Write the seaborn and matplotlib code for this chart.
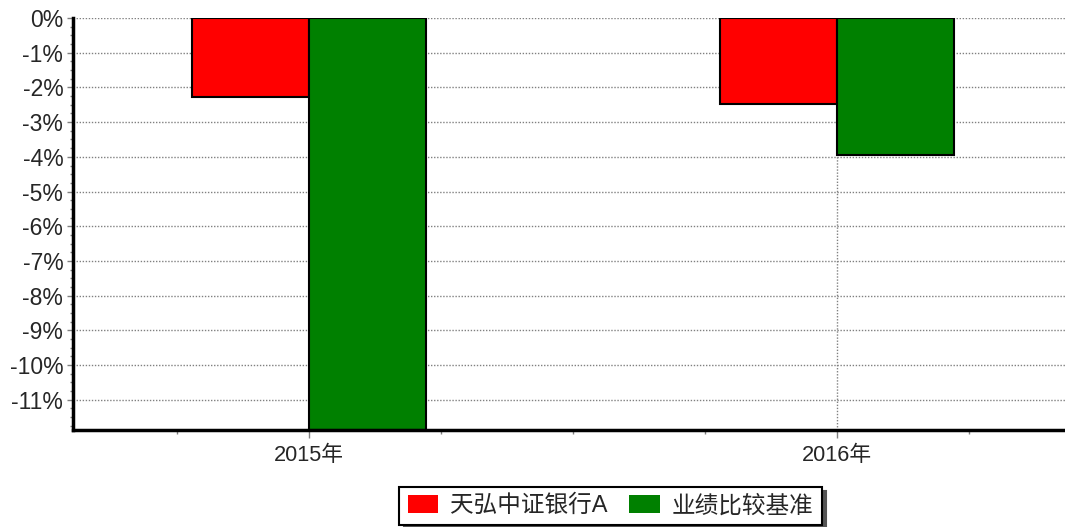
import matplotlib
matplotlib.use('Agg')
import matplotlib.pyplot as plt
import seaborn as sns
import pandas as pd
from matplotlib.ticker import FixedLocator, MultipleLocator, FuncFormatter
from matplotlib.patches import Patch

years = ['2015年', '2016年']
series_names = ['天弘中证银行A', '业绩比较基准']
fund_returns = [-2.28, -2.48]
benchmark_returns = [-11.87, -3.95]
colors = ['#FF0000', '#008000']
y_ticks = [0, -1, -2, -3, -4, -5, -6, -7, -8, -9, -10, -11]

df = pd.DataFrame({
    'year': years * 2,
    'series': [series_names[0]] * 2 + [series_names[1]] * 2,
    'value': fund_returns + benchmark_returns,
})

sns.set_theme(style='white')
plt.rcParams['font.family'] = ['Liberation Sans', 'Noto Sans CJK SC', 'DejaVu Sans']

W, H = 1065, 527
fig = plt.figure(figsize=(W / 100, H / 100), dpi=100)
ax = fig.add_axes([73 / W, 1 - 430 / H, 1 - 73 / W, (430 - 18) / H])

sns.barplot(data=df, x='year', y='value', hue='series', palette=colors,
            width=0.444, edgecolor='black', linewidth=1.5, saturation=1,
            ax=ax, legend=False)

ax.set_xlim(-0.447, 1.432)
ax.set_ylim(min(benchmark_returns + fund_returns), 0)
ax.set_xlabel('')
ax.set_ylabel('')

ax.set_yticks(y_ticks)
ax.yaxis.set_major_formatter(FuncFormatter(lambda v, p: f'{int(round(v))}%'))
ax.yaxis.set_minor_locator(MultipleLocator(0.25))
ax.set_xticks([0, 1])
ax.set_xticklabels(years)
ax.xaxis.set_minor_locator(FixedLocator([-0.25, 0.25, 0.5, 0.75, 1.25]))

ax.tick_params(axis='y', which='major', direction='out', length=4, width=1,
               color='#808080', labelsize=16.5, pad=3, left=True)
ax.tick_params(axis='y', which='minor', direction='out', length=2.2, width=1,
               color='#808080', left=True)
ax.tick_params(axis='x', which='major', direction='out', length=6, width=1,
               color='#808080', labelsize=15.7, pad=5, bottom=True)
ax.tick_params(axis='x', which='minor', direction='out', length=3, width=1,
               color='#808080', bottom=True)

ax.set_axisbelow(True)
ax.grid(True, which='major', axis='both', color='#808080', linewidth=1,
        linestyle=(0, (1, 1.2)))

for s in ['top', 'right']:
    ax.spines[s].set_visible(False)
for s in ['left', 'bottom']:
    ax.spines[s].set_color('black')
    ax.spines[s].set_linewidth(2.5)
    ax.spines[s].set_zorder(5)

handles = [Patch(facecolor=c, edgecolor='none') for c in colors]
leg = fig.legend(handles, series_names, loc='center', bbox_to_anchor=(610.5 / W, 1 - 506 / H),
                 ncol=2, frameon=True, fancybox=False, fontsize=17,
                 shadow={'ox': 3, 'oy': -3, 'color': '#555555', 'alpha': 1},
                 handlelength=1.3, handleheight=0.75, handletextpad=0.5,
                 columnspacing=0.9, borderpad=0.35, borderaxespad=0)
leg.get_frame().set_edgecolor('black')
leg.get_frame().set_linewidth(1.5)

fig.savefig('out.png', dpi=100)
